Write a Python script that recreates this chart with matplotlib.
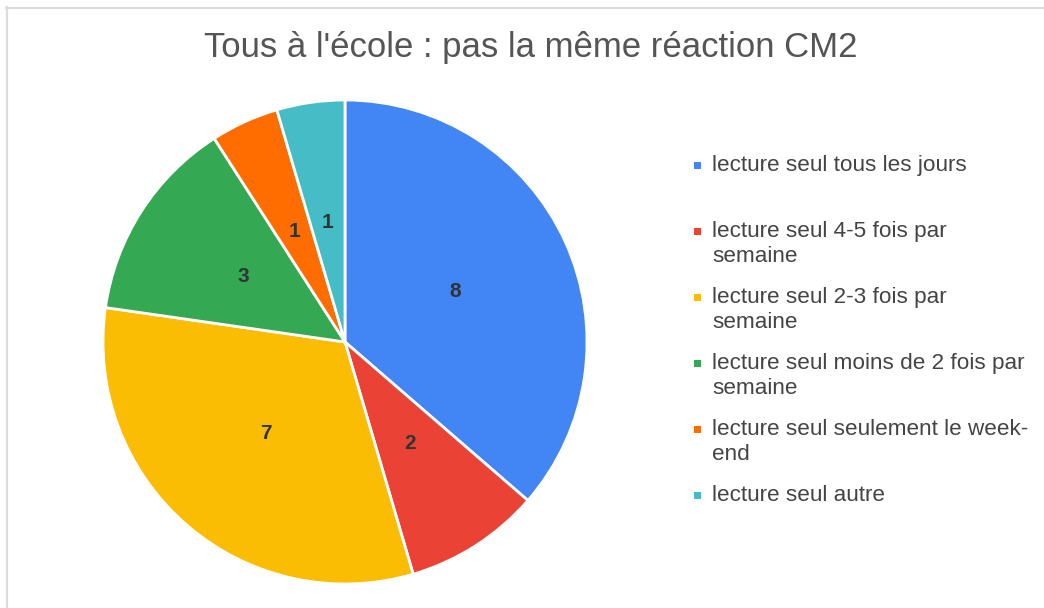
import matplotlib.pyplot as plt
from matplotlib.lines import Line2D
from matplotlib.patches import Rectangle

plt.rcParams['font.family'] = ['Liberation Sans', 'DejaVu Sans']

title = "Tous à l'école : pas la même réaction CM2"
labels = [
    "lecture seul tous les jours",
    "lecture seul 4-5 fois par\nsemaine",
    "lecture seul 2-3 fois par\nsemaine",
    "lecture seul moins de 2 fois par\nsemaine",
    "lecture seul seulement le week-\nend",
    "lecture seul autre",
]
values = [8, 2, 7, 3, 1, 1]
colors = ["#4285F4", "#EA4335", "#FBBC04", "#34A853", "#FF6D01", "#46BDC6"]

W, H = 1044, 608


def fx(x):
    return x / W


def fy(y):
    return 1 - y / H


def main():
    fig = plt.figure(figsize=(W / 100, H / 100), dpi=100)

    # pie centred at (345, 342) px, radius 242 px
    cx, cy, r = 345, 342, 242
    ax = fig.add_axes([fx(cx - r), fy(cy + r), 2 * r / W, 2 * r / H])
    wedges, texts = ax.pie(
        values,
        colors=colors,
        startangle=90,
        counterclock=False,
        labels=[str(v) for v in values],
        labeldistance=0.5,
        wedgeprops=dict(edgecolor="white", linewidth=2),
        textprops=dict(fontsize=15, fontweight="bold", color="#333333"),
        radius=1.0,
    )
    for t in texts:
        t.set_ha("center")
        t.set_va("center")
    ax.set_xlim(-1, 1)
    ax.set_ylim(-1, 1)
    ax.set_aspect("auto")
    ax.axis("off")

    fig.text(fx(531), fy(47), title, ha="center", va="center",
             fontsize=25, color="#555555")

    # legend drawn by hand, one 66 px slot per entry
    for i, (lab, col) in enumerate(zip(labels, colors)):
        y = 165 + 66 * i
        fig.patches.append(Rectangle((fx(694), fy(y + 3.5)), 7 / W, 7 / H,
                                     transform=fig.transFigure,
                                     facecolor=col, edgecolor="none"))
        fig.text(fx(712), fy(y - 10), lab, ha="left", va="top",
                 fontsize=16.2, color="#444444", linespacing=1.22)

    # light frame on top and left
    fig.add_artist(Line2D([fx(6.5), fx(6.5)], [0, fy(7)], color="#dcdcdc",
                          linewidth=1.6, transform=fig.transFigure))
    fig.add_artist(Line2D([fx(6), 1], [fy(7.5), fy(7.5)], color="#dcdcdc",
                          linewidth=1.6, transform=fig.transFigure))

    fig.savefig("out.png", dpi=100)


if __name__ == "__main__":
    main()
